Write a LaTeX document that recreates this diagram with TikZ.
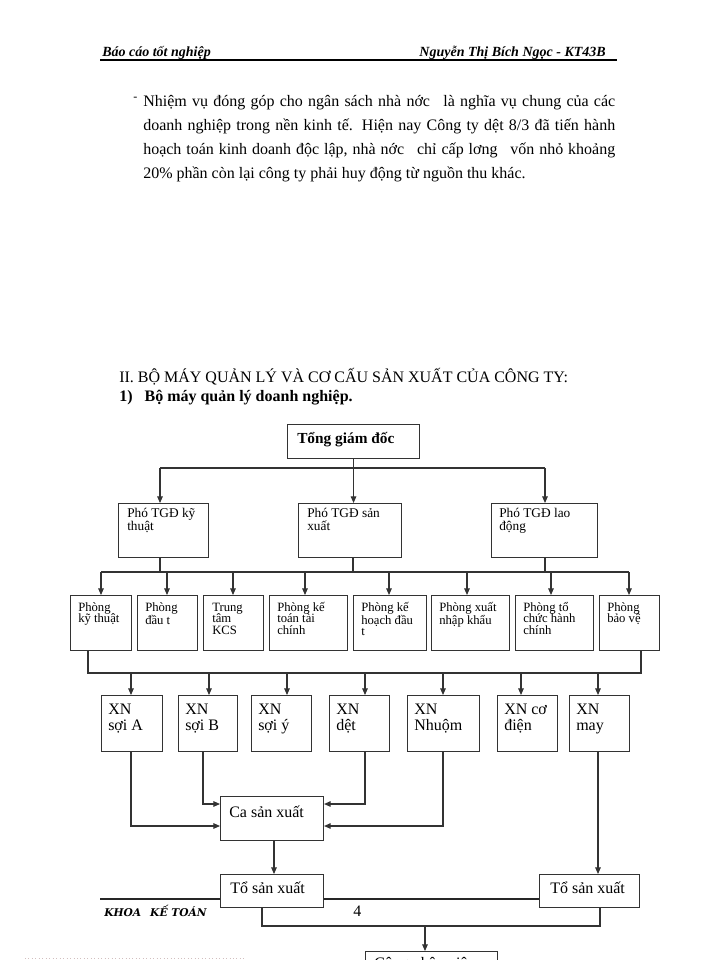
\documentclass[tikz,border=0pt]{standalone}
\usepackage{fontspec}
\setmainfont{Liberation Serif}
\newfontfamily\footfont{DejaVu Serif}
\usetikzlibrary{arrows.meta}
\newcommand\mybox[5]{\node[bx, minimum width=#4*0.75pt, minimum height=#5*0.75pt] (#1) at (#2,#3) {};}
\newcommand\mytext[4]{\node[anchor=base west, inner sep=0pt] (#1) at (#2,#3) {\parbox[t]{120pt}{\raggedright #4}};}
\begin{document}
\begin{tikzpicture}[x=0.75pt,y=-0.75pt,
  ln/.style={draw=black!80, line width=0.8pt},
  arr/.style={ln, -{Triangle[length=5pt,width=4.2pt]}},
  bx/.style={draw=black!80, line width=0.8pt, fill=white, anchor=north west, inner sep=0pt},
  small/.style={font=\fontsize{9.5}{8.8}\selectfont},
  mid/.style={font=\fontsize{10}{10}\selectfont},
  big/.style={font=\fontsize{12}{12}\selectfont}]
\useasboundingbox (0,0) rectangle (700,960);
\fill[white] (0,0) rectangle (700,960);
\begin{scope}
\clip (0,0) rectangle (700,960);
% header
\node[anchor=base west, inner sep=0pt, font=\fontsize{10.5}{12}\selectfont\bfseries\itshape] (hl) at (102,56) {Báo cáo tốt nghiệp};
\node[anchor=base east, inner sep=0pt, font=\fontsize{10.5}{12}\selectfont\bfseries\itshape] (hr) at (606,56) {Nguyễn Thị Bích Ngọc - KT43B};
\coordinate (h1) at (100,60); \coordinate (h2) at (617,60);
\draw[line width=0.8pt] (h1) -- (h2);
% body
\node[anchor=base west, inner sep=0pt, font=\fontsize{9}{9}\selectfont] (bul) at (133,100) {-};
\node[anchor=base west, inner sep=0pt, font=\fontsize{12}{18}\selectfont] (body) at (143,106) {\parbox[t]{354pt}{Nhiệm vụ đóng góp cho ngân sách nhà nớc\hspace{6pt} là nghĩa vụ chung của các\linebreak doanh nghiệp trong nền kinh tế. Hiện nay Công ty dệt 8/3 đã tiến hành\linebreak hoạch toán kinh doanh độc lập, nhà nớc\hspace{6pt} chỉ cấp lơng\hspace{6pt} vốn nhỏ khoảng\linebreak 20\% phần còn lại công ty phải huy động từ nguồn thu khác.}};
% headings
\node[anchor=base west, inner sep=0pt, font=\fontsize{12}{12}\selectfont] (sec) at (119,382) {II. BỘ MÁY QUẢN LÝ VÀ CƠ CẤU SẢN XUẤT CỦA CÔNG TY:};
\node[anchor=base west, inner sep=0pt, font=\fontsize{12}{12}\selectfont\bfseries] (sub) at (119,401) {1)\hspace{6pt} Bộ máy quản lý doanh nghiệp.};
% footer rule (behind boxes)
\coordinate (f1) at (100,899); \coordinate (f2) at (615,899);
\draw[line width=0.8pt, black!85] (f1) -- (f2);
% Tong giam doc
\mybox{tgd}{287}{424}{132}{34}
\node[anchor=base west, inner sep=0pt, font=\fontsize{11.5}{12}\selectfont\bfseries] (tgdt) at (297,443) {Tổng giám đốc};
% Pho TGD
\mybox{p1}{118}{503}{90}{54}
\mybox{p2}{298}{503}{103}{54}
\mybox{p3}{491}{503}{106}{54}
\begin{scope}[mid]
\mytext{p1t}{127}{517}{Phó TGĐ kỹ\\thuật}
\mytext{p2t}{307}{517}{Phó TGĐ sản\\xuất}
\mytext{p3t}{499}{517}{Phó TGĐ lao\\động}
\end{scope}
\coordinate (j0) at (353,468);
\coordinate (j1) at (160,468);
\coordinate (j3) at (545,468);
\draw[ln] (j1) -- (j3);
\draw[arr] (tgd.south) -- (tgd.south |- p2.north);
\draw[arr] (j1) -- (j1 |- p1.north);
\draw[arr] (j3) -- (j3 |- p3.north);
% Phong boxes
\mybox{r1}{70}{595}{61}{55}
\mybox{r2}{137}{595}{60}{55}
\mybox{r3}{203}{595}{60}{55}
\mybox{r4}{269}{595}{78}{55}
\mybox{r5}{353}{595}{73}{55}
\mybox{r6}{431}{595}{78}{55}
\mybox{r7}{515}{595}{78}{55}
\mybox{r8}{599}{595}{60}{55}
\begin{scope}[small]
\mytext{r1t}{78}{611}{Phòng\\kỹ thuật}
\mytext{r2t}{145}{611}{Phòng\\đầu t}
\mytext{r3t}{212}{611}{Trung\\tâm\\KCS}
\mytext{r4t}{277}{611}{Phòng kế\\toán tài\\chính}
\mytext{r5t}{361}{611}{Phòng kế\\hoạch đầu\\t}
\mytext{r6t}{439}{611}{Phòng xuất\\nhập khẩu}
\mytext{r7t}{523}{611}{Phòng tổ\\chức hành\\chính}
\mytext{r8t}{607}{611}{Phòng\\bảo vệ}
\end{scope}
\coordinate (k1) at (160,572);
\coordinate (k2) at (353,572);
\coordinate (k3) at (545,572);
\coordinate (kl) at (101,572);
\coordinate (kr) at (629,572);
\draw[ln] (kl) -- (kr);
\draw[ln] (p1.south -| k1) -- (k1);
\draw[ln] (p2.south -| k2) -- (k2);
\draw[ln] (p3.south -| k3) -- (k3);
\foreach \n/\xx in {r1/101,r2/167,r3/233,r4/305,r5/389,r6/467,r7/551,r8/629}
  \draw[arr] (\xx,572) -- (\xx,595);
% XN boxes
\mybox{x1}{101}{695}{61}{56}
\mybox{x2}{178}{695}{59}{56}
\mybox{x3}{251}{695}{60}{56}
\mybox{x4}{329}{695}{60}{56}
\mybox{x5}{407}{695}{72}{56}
\mybox{x6}{497}{695}{60}{56}
\mybox{x7}{569}{695}{60}{56}
\begin{scope}[big]
\mytext{x1t}{108}{714}{XN\\sợi A}
\mytext{x2t}{185}{714}{XN\\sợi B}
\mytext{x3t}{258}{714}{XN\\sợi ý}
\mytext{x4t}{336}{714}{XN\\dệt}
\mytext{x5t}{414}{714}{XN\\Nhuộm}
\mytext{x6t}{504}{714}{XN cơ\\điện}
\mytext{x7t}{576}{714}{XN\\may}
\end{scope}
\coordinate (m1) at (88,673);
\coordinate (m2) at (641,673);
\draw[ln] (r1.south -| m1) -- (m1) -- (m2) -- (r8.south -| m2);
\foreach \xx in {131,209,287,365,443,521,598}
  \draw[arr] (\xx,673) -- (\xx,695);
% Ca san xuat
\mybox{ca}{220}{796}{103}{44}
\node[anchor=base west, inner sep=0pt, big] (cat) at (229,817) {Ca sản xuất};
\coordinate (c1) at (131,826);
\coordinate (c2) at (203,804);
\coordinate (c3) at (365,804);
\coordinate (c4) at (443,826);
\draw[arr] (x1.south -| c1) -- (c1) -- (c1 -| ca.west);
\draw[arr] (x2.south -| c2) -- (c2) -- (c2 -| ca.west);
\draw[arr] (x4.south -| c3) -- (c3) -- (c3 -| ca.east);
\draw[arr] (x5.south -| c4) -- (c4) -- (c4 -| ca.east);
% To san xuat
\mybox{t1}{220}{874}{103}{33}
\mybox{t2}{539}{874}{100}{33}
\node[anchor=base west, inner sep=0pt, big] (t1t) at (230,893) {Tổ sản xuất};
\node[anchor=base west, inner sep=0pt, big] (t2t) at (550,893) {Tổ sản xuất};
\coordinate (ca1) at (274,840);
\draw[arr] (ca1) -- (ca1 |- t1.north);
\coordinate (xm) at (598,751);
\draw[arr] (xm) -- (xm |- t2.north);
% footer texts
\node[anchor=base west, inner sep=0pt, font=\footfont\fontsize{8}{8}\selectfont\bfseries\itshape] (khoa) at (104,916) {KHOA\hspace{4pt} KẾ TOÁN};
\node[anchor=base west, inner sep=0pt, big] (pg) at (353,916) {4};
% bottom
\mybox{cn}{365}{951}{132}{40}
\node[anchor=base west, inner sep=0pt, big] (cnt) at (374,968) {Công nhân viên};
\coordinate (b1) at (262,926);
\coordinate (b2) at (600,926);
\coordinate (b0) at (425,926);
\draw[ln] (t1.south -| b1) -- (b1) -- (b2) -- (t2.south -| b2);
\draw[arr] (b0) -- (cn.north -| b0);
\coordinate (d1) at (25,958); \coordinate (d2) at (245,958);
\draw[red!30!black!25, line width=0.6pt, dotted] (d1) -- (d2);
\end{scope}
\end{tikzpicture}
\end{document}
